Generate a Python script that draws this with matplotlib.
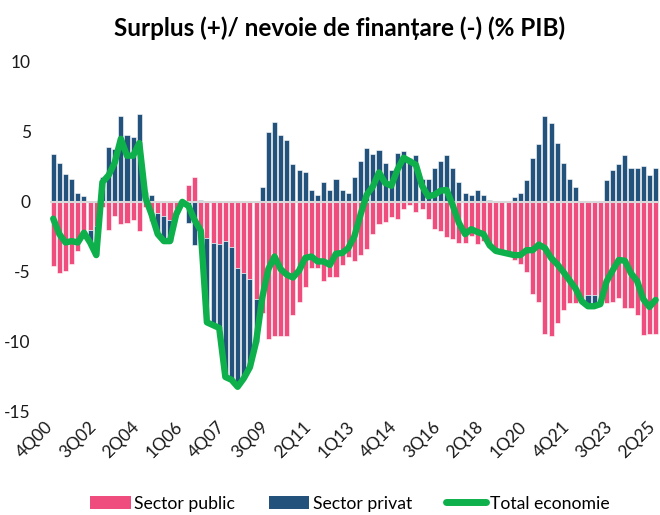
import numpy as np
import matplotlib
matplotlib.use("Agg")
import matplotlib.pyplot as plt
from matplotlib.patches import Patch
from matplotlib.lines import Line2D
from matplotlib.transforms import ScaledTranslation

plt.rcParams['font.family'] = ['Lato', 'DejaVu Sans']

# quarters 4Q00 .. 2Q25
quarters = []
y, q = 2000, 4
for _ in range(99):
    quarters.append(f"{q}Q{y % 100:02d}")
    q += 1
    if q > 4:
        q = 1
        y += 1

# sector public (% PIB)
public = [-4.6, -5.1, -4.9, -4.4, -3.5, -2.6, -2.0, -1.7, -0.4, -2.0,
          -1.0, -1.6, -1.5, -1.3, -2.1, -0.4, -1.4, -0.8, -1.0, -1.3,
          -0.5, -0.15, 1.2, 1.8, -2.2, -2.6, -2.95, -3.0, -2.8, -3.25,
          -4.75, -5.1, -5.5, -6.9, -7.9, -9.8, -9.6, -9.6, -9.6, -8.1,
          -7.15, -6.1, -4.75, -4.75, -5.65, -5.35, -5.35, -4.5, -3.9, -4.25,
          -3.8, -3.35, -2.3, -1.6, -1.45, -1.1, -1.2, -0.5, -0.2, -0.7,
          -0.5, -1.2, -1.95, -2.1, -2.5, -2.65, -2.9, -2.9, -2.45, -3.0,
          -2.8, -3.2, -3.4, -3.6, -3.7, -4.15, -4.4, -5.0, -6.6, -7.15,
          -9.4, -9.6, -8.65, -7.75, -7.25, -7.25, -7.0, -6.65, -6.65, -7.3,
          -7.25, -7.15, -6.85, -7.55, -7.55, -8.1, -9.5, -9.4, -9.4]

# sector privat (% PIB)
private = [3.4, 2.8, 2.0, 1.6, 0.6, 0.4, -0.9, -2.1, 1.8, 3.9,
           3.8, 6.1, 4.8, 4.6, 6.3, 0.7, 0.5, -1.5, -1.8, -1.5,
           -0.4, 0.15, -1.5, -3.1, 0.15, -6.0, -5.85, -6.0, -9.7, -9.45,
           -8.45, -7.5, -6.3, -3.1, 1.05, 5.0, 5.7, 4.8, 4.4, 2.7,
           2.25, 2.1, 0.85, 0.5, 1.4, 0.85, 1.65, 0.85, 0.6, 1.8,
           2.9, 3.85, 3.4, 3.7, 2.8, 2.25, 3.5, 3.65, 3.1, 3.35,
           1.65, 1.6, 2.45, 2.9, 3.35, 2.4, 1.4, 0.6, 0.5, 0.85,
           0.5, 0.1, -0.1, 0.0, 0.0, 0.35, 0.6, 1.55, 3.15, 4.1,
           6.1, 5.6, 4.2, 2.75, 1.65, 1.05, -0.1, -0.8, -0.8, 0.0,
           1.55, 2.25, 2.7, 3.35, 2.45, 2.45, 2.55, 1.9, 2.4]

pub = np.array(public)
priv = np.array(private)
total = pub + priv
x = np.arange(len(quarters))

pink = '#EE4D7E'
navy = '#23527C'
green = '#0DB04B'

fig = plt.figure(figsize=(6.6, 5.15), dpi=100)
ax = fig.add_axes([0.076, 0.2, 0.922, 0.68])

# excel-style stacking: positives on positives, negatives on negatives
priv_bottom = np.where(priv >= 0, np.maximum(pub, 0), np.minimum(pub, 0))
ax.bar(x, pub, width=0.82, color=pink, edgecolor='white', linewidth=0.4, zorder=2)
ax.bar(x, priv, width=0.82, bottom=priv_bottom, color=navy, edgecolor='white',
       linewidth=0.4, zorder=2)
ax.axhline(0, color='#D9D9D9', linewidth=1.5, zorder=3)
ax.plot(x, total, color=green, linewidth=4.6, solid_joinstyle='round',
        solid_capstyle='round', zorder=4)

ax.set_xlim(-0.5, len(quarters) - 0.5)
ax.set_ylim(-15, 10)
ax.set_yticks([10, 5, 0, -5, -10, -15])
ax.set_yticklabels(['10', '5', '0', '-5', '-10', '-15'])
ax.set_xticks(x[::7])
ax.set_xticklabels(quarters[::7], rotation=45, ha='right', rotation_mode='anchor')
ax.tick_params(axis='both', length=0, labelsize=12.5, colors='#1a1a1a')
ax.tick_params(axis='y', pad=14)
ax.tick_params(axis='x', pad=5)
shift = ScaledTranslation(-6 / 72, 0, fig.dpi_scale_trans)
for lbl in ax.get_xticklabels():
    lbl.set_transform(lbl.get_transform() + shift)
for s in ax.spines.values():
    s.set_visible(False)

fig.suptitle('Surplus (+)/ nevoie de finanțare (-) (% PIB)', x=0.515, y=0.968,
             fontsize=17.5, fontweight='bold')

handles = [Patch(facecolor=pink), Patch(facecolor=navy),
           Line2D([0], [0], color=green, linewidth=5, solid_capstyle='round')]
fig.legend(handles, ['Sector public', 'Sector privat', 'Total economie'],
           loc='center', bbox_to_anchor=(0.53, 0.022), ncol=3, frameon=False,
           fontsize=12.7, handlelength=2.3, handleheight=0.75, handletextpad=0.2,
           columnspacing=1.9)

fig.savefig('out.png', dpi=100)
